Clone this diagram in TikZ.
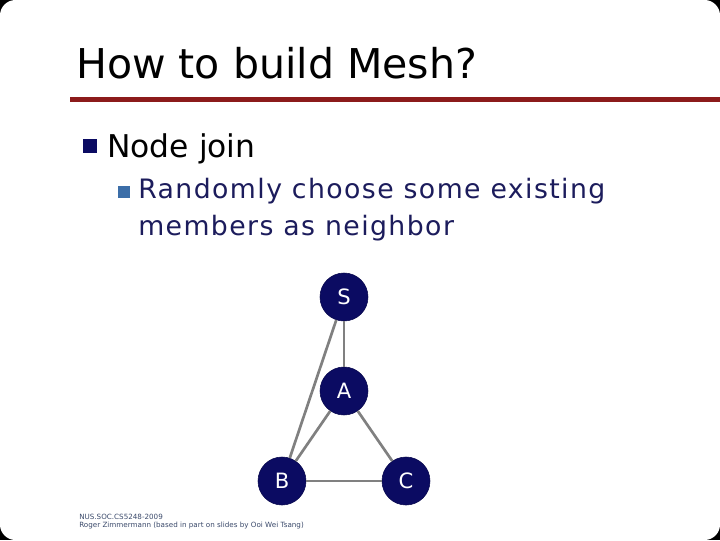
\documentclass[tikz,border=0pt]{standalone}
\usepackage{fontspec}
\setmainfont{DejaVu Sans}
\newfontfamily\widefont[LetterSpace=5.3]{DejaVu Sans}
\usepackage{xcolor}
\definecolor{navy}{HTML}{0B0B62}
\definecolor{bulletblue}{HTML}{3C6EA8}
\definecolor{subnavy}{HTML}{1C1C5C}
\definecolor{rulered}{HTML}{8C1B1B}
\definecolor{linkgray}{HTML}{808080}
\definecolor{footgray}{HTML}{3B4A6B}
\tikzset{peer/.style={
    circle, fill=navy, draw=navy!80!black, text=white,
    minimum size=1.2cm, inner sep=0pt,
    font=\fontsize{15}{15}\selectfont
}}
\tikzset{link/.style={draw=linkgray, line width=1.9pt}}

\begin{document}
\begin{tikzpicture}[x=0.025cm, y=-0.025cm]

%0
\fill[black] (0,0) rectangle (720,540);
\fill[white, rounded corners=11pt] (0,0) rectangle (720,540);
\useasboundingbox (0,0) rectangle (720,540);

%1
\node[anchor=base west, inner sep=0pt, font=\fontsize{29.2}{35}\selectfont] (title) at (76,78) {How to build Mesh?};
\draw[rulered, line width=3.5pt] (70,99.5) -- (720,99.5);

%2
\fill[navy] (82.5,138.5) rectangle (97,153);
\node[anchor=base west, inner sep=0pt, font=\fontsize{22.3}{26}\selectfont] (join) at (107,157) {Node join};

%3
\fill[bulletblue] (117.5,186) rectangle (129.5,198);
\node[anchor=base west, inner sep=0pt, text=subnavy, font=\fontsize{19}{23}\widefont] (line1) at (138,198) {Randomly choose some existing};
\node[anchor=base west, inner sep=0pt, text=subnavy, font=\fontsize{19}{23}\widefont] (line2) at (138,235) {members as neighbor};

%4
\node[peer] (S) at (344,297) {S};
\node[peer] (A) at (344,391) {A};
\node[peer] (B) at (282,481) {B};
\node[peer] (C) at (406,481) {C};
\draw[link] (S) -- (A);
\draw[link] (S) -- (B);
\draw[link] (A) -- (B);
\draw[link] (A) -- (C);
\draw[link] (B) -- (C);

%5
\node[anchor=base west, inner sep=0pt, text=footgray, font=\fontsize{5.1}{5.5}\selectfont] (foot1) at (79,519) {NUS.SOC.CS5248-2009};
\node[anchor=base west, inner sep=0pt, text=footgray, font=\fontsize{5.1}{5.5}\selectfont] (foot2) at (79,527) {Roger Zimmermann (based in part on slides by Ooi Wei Tsang)};

\end{tikzpicture}
\end{document}
